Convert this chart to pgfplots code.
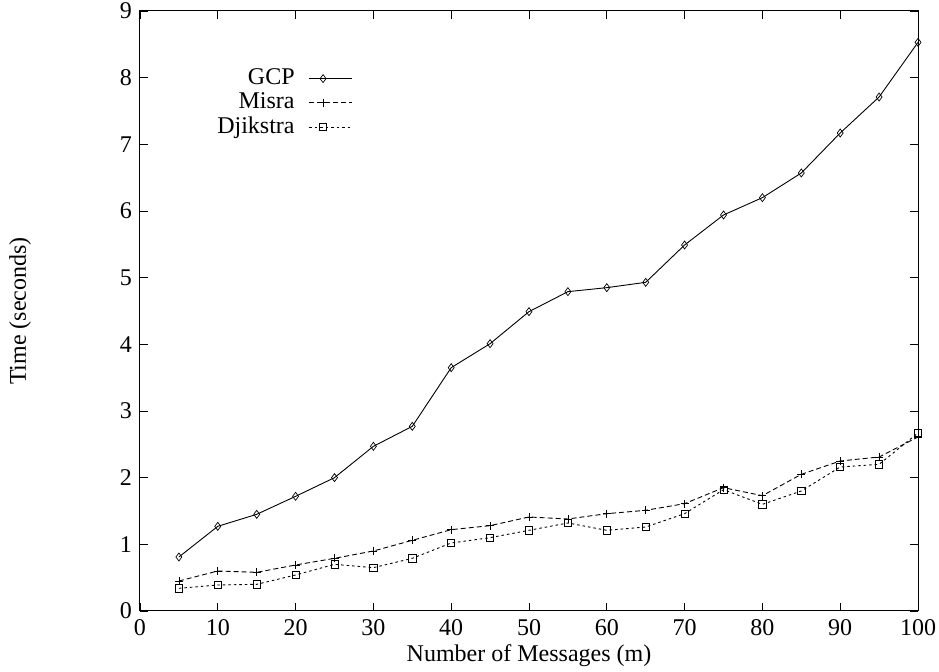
\documentclass[border=0pt]{standalone}
\usepackage{fontspec}
\setmainfont{Liberation Serif}
\usepackage{pgfplots}
\pgfplotsset{compat=1.18}
\begin{document}
\fontsize{24}{28}\selectfont
\begin{tikzpicture}
\begin{axis}[
  scale only axis, width=778pt, height=600pt,
  xmin=0, xmax=100, ymin=0, ymax=9,
  xtick={0,10,...,100}, ytick={0,1,...,9},
  tick align=inside, major tick length=8pt,
  xtick pos=both, ytick pos=both,
  axis line style={line width=1pt},
  every tick/.style={line width=0.9pt, black},
  /pgf/number format/assume math mode=true,
  ticklabel style={font=\fontsize{24}{28}\selectfont},
  xlabel={Number of Messages (m)}, ylabel={Time (seconds)},
  label style={font=\fontsize{24}{28}\selectfont},
  xlabel style={at={(axis description cs:0.5,-0.075)}, anchor=center},
  ylabel style={at={(axis description cs:-0.154,0.5)}, anchor=center, rotate=0},
  legend style={draw=none, fill=none, at={(axis cs:27.6,8.0)}, anchor=north east,
    yshift=13pt, row sep=0.5pt, inner sep=2pt,
    font=\fontsize{24}{28}\selectfont, cells={anchor=east}},
  legend plot pos=right,
  legend image code/.code={\path (0pt,0pt); \draw[mark repeat=2,mark phase=2,#1] plot coordinates {(12pt,0pt) (26pt,0pt) (55pt,0pt)};},
  every axis plot/.append style={line width=0.9pt, black},
]
\addplot[mark=diamond, mark size=4pt, mark options={solid, line width=0.7pt}] coordinates {
(5,0.81) (10,1.27) (15,1.45) (20,1.72) (25,2.00) (30,2.47) (35,2.77) (40,3.65) (45,4.01) (50,4.49)
(55,4.79) (60,4.85) (65,4.93) (70,5.49) (75,5.94) (80,6.20) (85,6.57) (90,7.17) (95,7.71) (100,8.53)};
\addlegendentry{GCP}
\addplot[mark=+, mark size=4pt, dash pattern=on 5pt off 3pt, mark options={solid, line width=0.7pt}] coordinates {
(5,0.45) (10,0.60) (15,0.58) (20,0.69) (25,0.79) (30,0.90) (35,1.06) (40,1.22) (45,1.28) (50,1.41)
(55,1.38) (60,1.46) (65,1.51) (70,1.61) (75,1.85) (80,1.73) (85,2.05) (90,2.25) (95,2.31) (100,2.61)};
\addlegendentry{Misra}
\addplot[mark=square, mark size=3.6pt, dash pattern=on 2.5pt off 3pt, mark options={solid, line width=0.7pt}] coordinates {
(5,0.34) (10,0.39) (15,0.40) (20,0.54) (25,0.70) (30,0.65) (35,0.79) (40,1.02) (45,1.10) (50,1.21)
(55,1.32) (60,1.21) (65,1.26) (70,1.46) (75,1.82) (80,1.60) (85,1.80) (90,2.16) (95,2.20) (100,2.67)};
\addlegendentry{Djikstra}
\end{axis}
\pgfresetboundingbox
\path[use as bounding box] ([shift={(-140pt,-61pt)}]current axis.south west) rectangle ([shift={(21pt,11pt)}]current axis.north east);
\end{tikzpicture}
\end{document}
